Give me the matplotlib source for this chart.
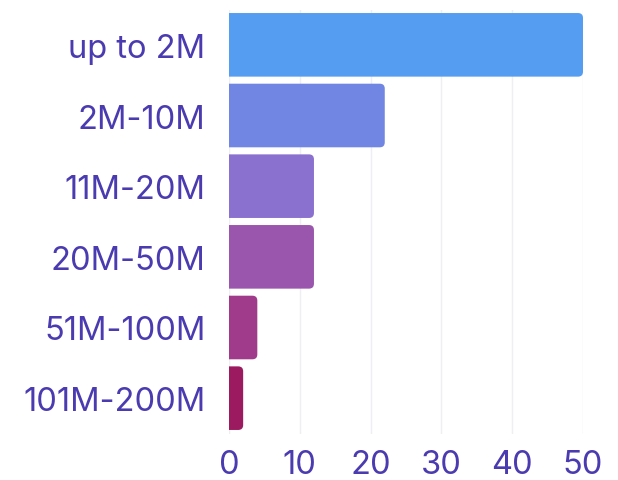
import matplotlib
matplotlib.use("Agg")
import matplotlib.pyplot as plt
from matplotlib.patches import FancyBboxPatch

# data
categories = ["up to 2M", "2M-10M", "11M-20M", "20M-50M", "51M-100M", "101M-200M"]
values = [50, 22, 12, 12, 4, 2]
colors = ["#559DF0", "#7086E2", "#8A70CF", "#9A55AC", "#A03A8A", "#9C1A60"]
ticks = [0, 10, 20, 30, 40, 50]

text_color = "#4B3BB0"
plt.rcParams['font.family'] = ['Inter', 'DejaVu Sans']

fig = plt.figure(figsize=(6.18, 4.81), dpi=100)
ax = fig.add_axes([229 / 618, 46.5 / 481, (583 - 229) / 618, 424 / 481])

ypos = list(range(len(categories)))
bars = ax.barh(ypos, values, height=0.9, color=colors)

# swap plain rectangles for rounded ones (left side hidden past x=0)
for rect in bars.patches:
    rect.set_visible(False)
    x0, y0 = rect.get_x(), rect.get_y()
    w, h = rect.get_width(), rect.get_height()
    box = FancyBboxPatch((x0 - 2, y0), w + 2, h,
                         boxstyle="round,pad=0,rounding_size=0.7",
                         mutation_aspect=0.1,
                         facecolor=rect.get_facecolor(), edgecolor="none",
                         clip_on=True, zorder=2)
    ax.add_patch(box)

ax.set_xlim(0, 50)
ax.set_ylim(len(categories) - 0.5, -0.5)
ax.set_yticks(ypos)
ax.set_yticklabels(categories)
ax.set_xticks(ticks)

ax.grid(axis="x", color="#EEEEF4", linewidth=1, zorder=0)
ax.set_axisbelow(True)
for s in ax.spines.values():
    s.set_visible(False)
ax.tick_params(axis="both", length=0, colors=text_color, labelsize=23.5)
ax.tick_params(axis="x", pad=11)
ax.tick_params(axis="y", pad=17)

fig.savefig("out.png", dpi=100)
